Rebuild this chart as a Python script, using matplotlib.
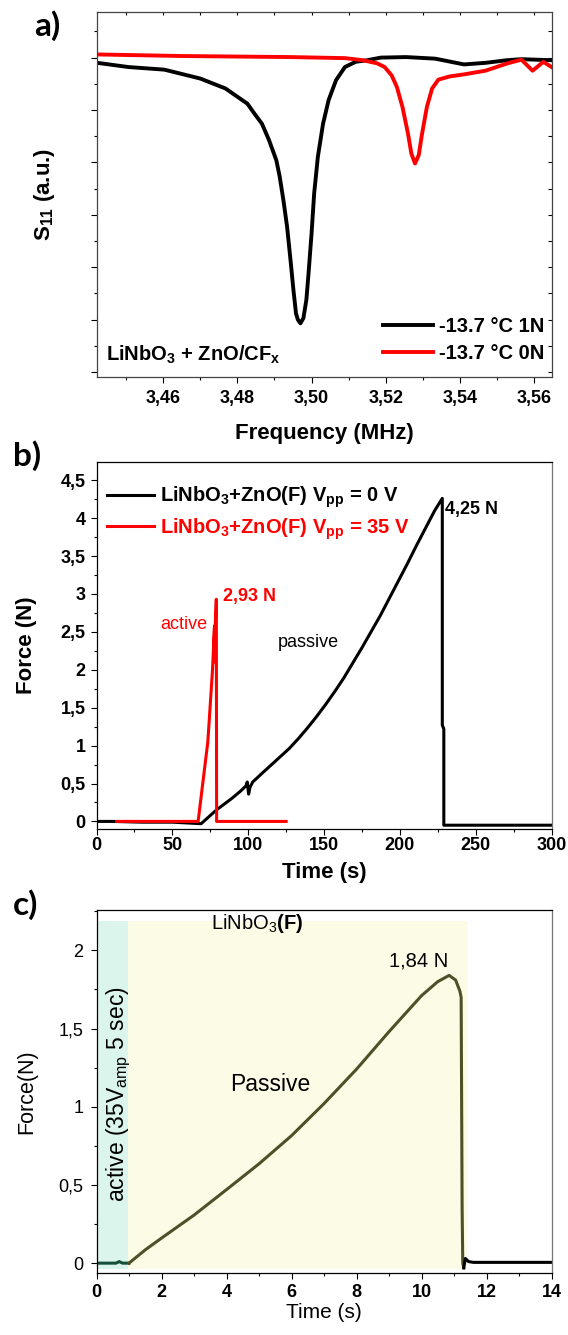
import numpy as np
import matplotlib
matplotlib.use('Agg')
import matplotlib.pyplot as plt
from matplotlib.ticker import MultipleLocator

plt.rcParams['font.family'] = ['Liberation Sans', 'DejaVu Sans']
plt.rcParams['mathtext.fontset'] = 'custom'
plt.rcParams['mathtext.rm'] = 'Liberation Sans'
plt.rcParams['mathtext.bf'] = 'Liberation Sans:bold'
plt.rcParams['mathtext.it'] = 'Liberation Sans:italic'
plt.rcParams['mathtext.default'] = 'regular'

# ---- panel a: S11 spectra (arbitrary units) ----
freq_1N = [3.4422, 3.4506, 3.4603, 3.4700, 3.4768, 3.4827, 3.4846, 3.4866, 3.4885, 3.4905,
           3.4914, 3.4924, 3.4934, 3.4944, 3.4951, 3.4958, 3.4963, 3.4970, 3.4978, 3.4986,
           3.4992, 3.5000, 3.5007, 3.5017, 3.5031, 3.5046, 3.5066, 3.5090, 3.5119, 3.5150,
           3.5187, 3.5255, 3.5333, 3.5411, 3.5469, 3.5527, 3.5566, 3.5647]
s11_1N = [-0.10, -0.18, -0.23, -0.40, -0.59, -0.88, -1.07, -1.26, -1.57, -1.96,
          -2.27, -2.72, -3.23, -3.92, -4.43, -4.88, -5.00, -5.07, -4.97, -4.62,
          -4.10, -3.35, -2.59, -1.89, -1.26, -0.81, -0.43, -0.18, -0.08, -0.05,
          0.00, 0.01, -0.02, -0.13, -0.10, -0.05, -0.03, -0.05]
freq_0N = [3.4422, 3.4652, 3.4944, 3.5090, 3.5138, 3.5177, 3.5197, 3.5216, 3.5230, 3.5245,
           3.5260, 3.5269, 3.5279, 3.5289, 3.5298, 3.5311, 3.5325, 3.5342, 3.5372, 3.5411,
           3.5469, 3.5528, 3.5566, 3.5596, 3.5625, 3.5647]
s11_0N = [0.06, 0.03, 0.01, -0.01, -0.05, -0.11, -0.18, -0.34, -0.56, -0.94,
          -1.45, -1.83, -2.02, -1.86, -1.45, -0.94, -0.59, -0.42, -0.36, -0.32,
          -0.25, -0.11, -0.04, -0.25, -0.08, -0.18]
freq_ticks = [3.46, 3.48, 3.50, 3.52, 3.54, 3.56]
freq_labels = ['3,46', '3,48', '3,50', '3,52', '3,54', '3,56']

# ---- panel b: force vs time ----
time_0V = [0, 10, 30, 50, 69, 79, 89, 95, 98.6, 99.4, 100.3, 101.2, 103, 110, 117.7, 127,
           133, 139, 145, 151, 157, 163, 169, 175, 181, 187, 193, 199, 205, 211, 217, 223,
           228, 228, 229, 229, 250, 300]
force_0V = [0.0, 0.0, -0.01, -0.01, -0.03, 0.15, 0.30, 0.40, 0.47, 0.52, 0.36, 0.45, 0.52,
            0.65, 0.79, 0.96, 1.09, 1.23, 1.38, 1.54, 1.71, 1.89, 2.09, 2.29, 2.50, 2.71,
            2.94, 3.17, 3.40, 3.64, 3.87, 4.10, 4.26, 1.27, 1.22, -0.05, -0.05, -0.05]
time_35V = [13.3, 30, 50, 67.0, 73.4, 76.5, 77.8, 77.3, 79.0, 79.2, 90, 105, 125]
force_35V = [0.0, 0.0, 0.0, 0.0, 1.05, 2.0, 2.58, 2.10, 2.93, 0.0, 0.0, 0.0, 0.0]
b_yticks = [0, 0.5, 1, 1.5, 2, 2.5, 3, 3.5, 4, 4.5]
b_ylabels = ['0', '0,5', '1', '1,5', '2', '2,5', '3', '3,5', '4', '4,5']

# ---- panel c: LiNbO3(F) ----
time_act = [0, 0.6, 0.7, 0.8, 1.0]
force_act = [0.0, 0.0, 0.01, 0.0, 0.0]
time_pas = [1.0, 1.5, 2.0, 3.0, 4.0, 5.0, 6.0, 7.0, 8.0, 9.0, 10.0, 10.5, 10.85, 11.05,
            11.18, 11.22, 11.25, 11.27, 11.3]
force_pas = [0.0, 0.085, 0.16, 0.307, 0.47, 0.635, 0.815, 1.02, 1.24, 1.48, 1.71, 1.80,
             1.84, 1.81, 1.74, 1.70, 0.35, 0.0, -0.03]
time_end = [11.3, 11.35, 11.45, 11.6, 12, 14]
force_end = [-0.03, 0.03, 0.01, 0.005, 0.005, 0.005]
c_yticks = [0, 0.5, 1, 1.5, 2]
c_ylabels = ['0', '0,5', '1', '1,5', '2']

W, H = 568, 1335
fig = plt.figure(figsize=(W / 100, H / 100), dpi=100)


def axes_px(top, bottom, left=96.5, right=551.5):
    return fig.add_axes([left / W, 1 - bottom / H, (right - left) / W, (bottom - top) / H])


def tick_style(ax):
    ax.tick_params(which='major', direction='out', length=4.3, width=0.8)
    ax.tick_params(which='minor', direction='out', length=2.5, width=0.8)


# ===== a =====
ax = axes_px(12, 377)
ax.plot(freq_1N, s11_1N, color='black', lw=2.8, label='-13.7 °C 1N')
ax.plot(freq_0N, s11_0N, color='red', lw=2.8, label='-13.7 °C 0N')
ax.set_xlim(3.4420, 3.5647)
ax.set_ylim(-6.094, 0.87)
ax.set_xticks(freq_ticks)
ax.set_xticklabels(freq_labels, fontsize=13, fontweight='bold')
ax.xaxis.set_minor_locator(MultipleLocator(0.01))
ax.yaxis.set_major_locator(MultipleLocator(1))
ax.yaxis.set_minor_locator(MultipleLocator(0.5))
ax.set_yticklabels([])
tick_style(ax)
ax.tick_params(axis='x', which='major', pad=5)
ax2 = ax.secondary_xaxis('top')
ax2.set_xticks(np.arange(3.45, 3.561, 0.01))
ax2.tick_params(direction='in', length=2.5, labeltop=False)
ax3 = ax.secondary_yaxis('right')
ax3.yaxis.set_major_locator(MultipleLocator(0.5))
ax3.tick_params(direction='in', length=3, labelright=False)
for s in ax.spines.values():
    s.set_color('#444444')
    s.set_linewidth(0.9)
ax2.spines['top'].set_visible(False)
ax3.spines['right'].set_visible(False)
ax.set_xlabel('Frequency (MHz)', fontsize=16, fontweight='bold')
ax.xaxis.set_label_coords(0.5, -0.125)
ax.set_ylabel('S$_{11}$ (a.u.)', fontsize=16, fontweight='bold')
ax.yaxis.set_label_coords(-0.087, 0.5)
leg = ax.legend(loc='lower right', bbox_to_anchor=(0.985, 0.038), frameon=False,
                prop={'size': 14.5, 'weight': 'bold'}, handlelength=2.5,
                handletextpad=0.3, labelspacing=0.4, borderpad=0, borderaxespad=0)
ax.text(0.02, 0.06, 'LiNbO$_3$ + ZnO/CF$_x$', transform=ax.transAxes, fontsize=14.5,
        fontweight='bold', va='center', ha='left')

# ===== b =====
bx = axes_px(462, 829)
bx.plot(time_0V, force_0V, color='black', lw=2.2,
        label='LiNbO$_3$+ZnO(F) V$_{pp}$ = 0 V')
bx.plot(time_35V, force_35V, color='red', lw=2.2,
        label='LiNbO$_3$+ZnO(F) V$_{pp}$ = 35 V')
bx.set_xlim(0, 300)
bx.set_ylim(-0.1, 4.74)
bx.xaxis.set_major_locator(MultipleLocator(50))
bx.xaxis.set_minor_locator(MultipleLocator(25))
bx.set_yticks(b_yticks)
bx.set_yticklabels(b_ylabels)
bx.yaxis.set_minor_locator(MultipleLocator(0.25))
tick_style(bx)
bx.tick_params(axis='both', which='major', labelsize=13)
bx.tick_params(axis='x', pad=1.5)
bx.tick_params(axis='y', pad=3.5)
for lab in bx.get_xticklabels() + bx.get_yticklabels():
    lab.set_fontweight('bold')
bx.spines['right'].set_color('#777777')
for s in bx.spines.values():
    s.set_linewidth(0.9)
bx.set_xlabel('Time (s)', fontsize=16, fontweight='bold')
bx.xaxis.set_label_coords(0.5, -0.09)
bx.set_ylabel('Force (N)', fontsize=16, fontweight='bold')
bx.yaxis.set_label_coords(-0.13, 0.5)
legb = bx.legend(loc='upper left', bbox_to_anchor=(0.024, 0.938), frameon=False,
                 prop={'size': 14.5, 'weight': 'bold'}, handlelength=2.3,
                 handletextpad=0.3, labelspacing=0.3, borderpad=0, borderaxespad=0)
for t, c in zip(legb.get_texts(), ['black', 'red']):
    t.set_color(c)
bx.text(230, 4.12, '4,25 N', fontsize=13, fontweight='bold', va='center', ha='left')
bx.text(83.7, 2.97, '2,93 N', fontsize=13, fontweight='bold', color='red', va='center')
bx.text(73.4, 2.60, 'active', fontsize=13, color='red', va='center', ha='right')
bx.text(140, 2.36, 'passive', fontsize=13, color='black', va='center', ha='center')

# ===== c =====
cx = axes_px(910, 1273)
cx.axvspan(0, 0.98, ymin=0.01, ymax=0.97, color='#dcf5ec', lw=0)
cx.axvspan(0.98, 11.4, ymin=0.01, ymax=0.97, color='#fcfce6', lw=0)
cx.plot(time_act, force_act, color='#17503a', lw=2.2)
cx.plot(time_pas, force_pas, color='#505028', lw=2.2)
cx.plot(time_end, force_end, color='black', lw=2.2)
cx.set_xlim(0, 14)
cx.set_ylim(-0.063, 2.258)
cx.xaxis.set_major_locator(MultipleLocator(2))
cx.xaxis.set_minor_locator(MultipleLocator(1))
cx.set_yticks(c_yticks)
cx.set_yticklabels(c_ylabels)
cx.yaxis.set_minor_locator(MultipleLocator(0.25))
tick_style(cx)
cx.tick_params(axis='both', which='major', labelsize=13, pad=5)
cx.tick_params(axis='x', pad=3.5)
for lab in cx.get_xticklabels():
    lab.set_fontweight('bold')
cx.spines['right'].set_color('#777777')
for s in cx.spines.values():
    s.set_linewidth(0.9)
cx.set_xlabel('Time (s)', fontsize=15)
cx.xaxis.set_label_coords(0.5, -0.082)
cx.set_ylabel('Force(N)', fontsize=15.5)
cx.yaxis.set_label_coords(-0.131, 0.5)
cx.text(4.93, 2.17, r'LiNbO$_3$$\mathbf{(F)}$', fontsize=14.5, ha='center', va='center')
cx.text(9.92, 1.93, '1,84 N', fontsize=14.5, ha='center', va='center')
cx.text(5.36, 1.14, 'Passive', fontsize=16.5, ha='center', va='center')
cx.text(0.69, 1.08, 'active (35V$_{amp}$ 5 sec)', fontsize=16.5, rotation=90,
        ha='center', va='center')

# panel letters
for lbl, xpx, ypx in [('a)', 34, 26), ('b)', 13, 456), ('c)', 13, 905)]:
    fig.text(xpx / W, 1 - ypx / H, lbl, fontsize=24, fontweight='bold',
             family=['Lato', 'DejaVu Sans'], va='center', ha='left')

fig.savefig('out.png', dpi=100)
